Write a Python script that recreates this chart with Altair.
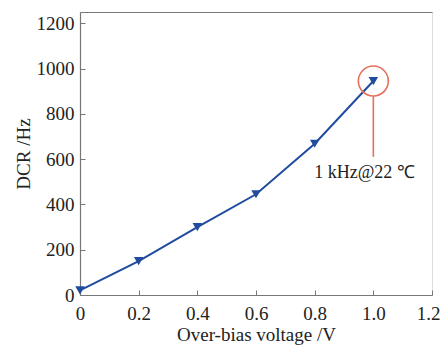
import altair as alt
import pandas as pd

voltage = [0.0, 0.2, 0.4, 0.6, 0.8, 1.0]
dcr = [20, 150, 300, 445, 668, 945]

ann_x = [1.0]
ann_y = [945]
ann_rule_y = [878]
ann_rule_y2 = [610]
ann_text_x = [0.97]
ann_text_y = [540]
ann_text = ["1 kHz@22 ℃"]

x_ticks = [0, 0.2, 0.4, 0.6, 0.8, 1.0, 1.2]
y_ticks = [0, 200, 400, 600, 800, 1000, 1200]

W, H = 352, 283
FONT = "Liberation Serif"
BLUE = "#1f4c9e"
RED = "#e4705c"
GRAY = "#777777"

df = pd.DataFrame({"v": voltage, "d": dcr})
ann = pd.DataFrame({"v": ann_x, "d": ann_y, "r1": ann_rule_y, "r2": ann_rule_y2,
                    "tx": ann_text_x, "ty": ann_text_y, "t": ann_text})

xs = alt.Scale(domain=[0, 1.2], nice=False)
ys = alt.Scale(domain=[0, 1250], nice=False)

line = alt.Chart(df).mark_line(color=BLUE, strokeWidth=2).encode(
    x=alt.X("v:Q", scale=xs, axis=alt.Axis(
        title="Over-bias voltage /V", values=x_ticks, format=".1f",
        labelExpr="datum.value == 0 ? '0' : datum.label",
        labelAlign={"condition": {"test": "datum.value >= 1.15", "value": "right"}, "value": "center"},
        labelOffset={"condition": {"test": "datum.value >= 1.15", "value": 8}, "value": 0},
        ticks=False, domain=True, domainColor=GRAY, domainWidth=1.2, grid=False,
        labelFontSize=19, titleFontSize=19,
        labelFont=FONT, titleFont=FONT, labelColor="#222", titleColor="#222",
        titleFontWeight="normal", labelPadding=9, titlePadding=2, labelFlush=False)),
    y=alt.Y("d:Q", scale=ys, axis=alt.Axis(
        title="DCR /Hz", values=y_ticks, format="d", ticks=False, domain=True,
        domainColor=GRAY, domainWidth=1.2, grid=False,
        labelFontSize=19, titleFontSize=19, labelFont=FONT, titleFont=FONT,
        labelColor="#222", titleColor="#222", titleFontWeight="normal",
        labelPadding=6, titlePadding=3, labelFlush=False)),
)

pts = alt.Chart(df).mark_point(shape="triangle-down", filled=True, size=90,
                               color=BLUE, opacity=1).encode(
    x=alt.X("v:Q", scale=xs, axis=alt.Axis(
        orient="top", offset=-H, values=x_ticks, labels=False, title=None,
        domain=False, grid=False, tickSize=5, tickColor=GRAY, tickWidth=1)),
    y=alt.Y("d:Q", scale=ys, axis=alt.Axis(
        orient="right", offset=-W, values=y_ticks, labels=False, title=None,
        domain=False, grid=False, tickSize=5, tickColor=GRAY, tickWidth=1)),
)

circ = alt.Chart(ann).mark_point(shape="circle", size=900, filled=False,
                                 color=RED, strokeWidth=1.6, opacity=1).encode(
    x=alt.X("v:Q", scale=xs, axis=alt.Axis(
        orient="top", labels=False, ticks=False, title=None, grid=False,
        domain=True, domainColor=GRAY, domainWidth=1.2)),
    y=alt.Y("d:Q", scale=ys, axis=None),
)

rule = alt.Chart(ann).mark_rule(color=RED, strokeWidth=1.6).encode(
    x=alt.X("v:Q", scale=xs, axis=None),
    y=alt.Y("r1:Q", scale=ys, axis=None),
    y2="r2:Q",
)

txt = alt.Chart(ann).mark_text(font=FONT, fontSize=18, color="#222",
                               align="center", baseline="middle").encode(
    x=alt.X("tx:Q", scale=xs, axis=None),
    y=alt.Y("ty:Q", scale=ys, axis=None),
    text="t:N",
)

chart = alt.layer(line, pts, circ, rule, txt).resolve_axis(
    x="independent", y="independent"
).properties(
    width=W, height=H,
    autosize=alt.AutoSizeParams(type="none"),
    padding={"left": 72, "top": 4, "right": 8, "bottom": 51},
).configure_view(stroke=None).configure(background="white")

chart.save("out.html", embed_options={"renderer": "svg", "actions": False})
